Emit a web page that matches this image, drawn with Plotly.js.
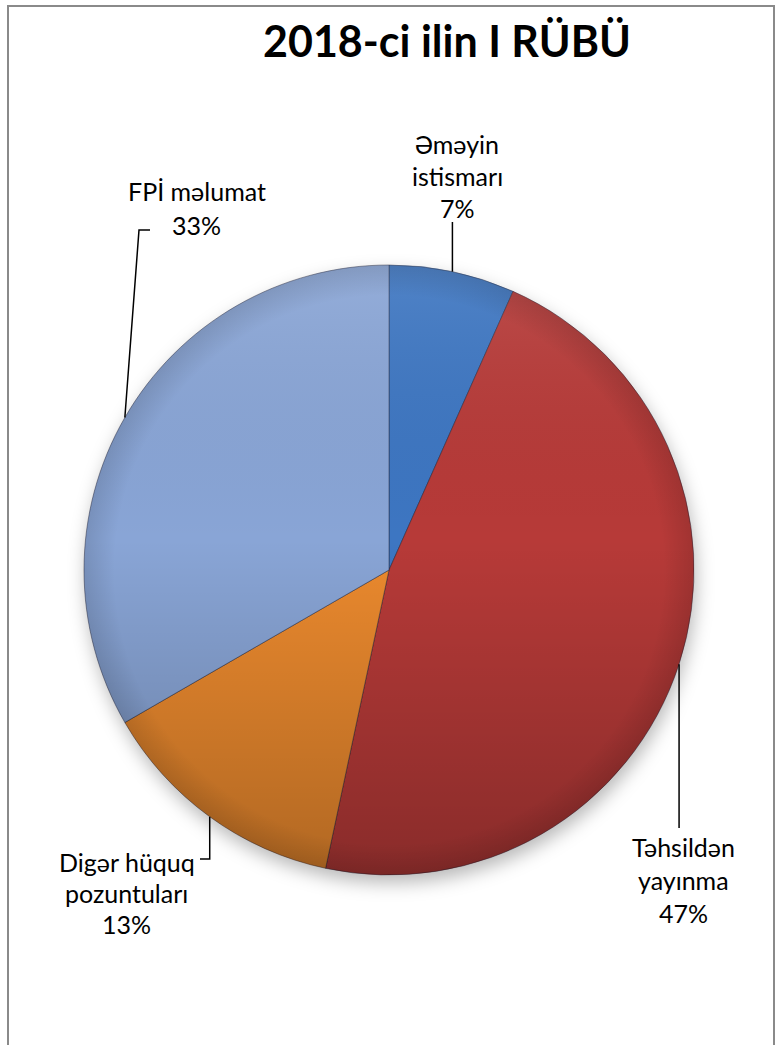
<!DOCTYPE html>
<html>
<head>
<meta charset="utf-8">
<script src="https://cdn.plot.ly/plotly-3.0.1.min.js"></script>
<style>
html,body{margin:0;padding:0;background:#fff;}
#chart{width:783px;height:1045px;}
</style>
</head>
<body>
<div id="chart"></div>
<script>
// ---- data ----
var titleText = "2018-ci ilin I RÜBÜ";
var categories = ["Əməyin istismarı", "Təhsildən yayınma", "Digər hüquq pozuntuları", "FPİ məlumat"];
var labelLines = [["Əməyin", "istismarı"], ["Təhsildən", "yayınma"], ["Digər hüquq", "pozuntuları"], ["FPİ məlumat"]];
var values = [2, 14, 4, 10];
var colors = ["#3d76c2", "#b73a38", "#ec8a2e", "#89a5d6"];

// ---- layout helpers ----
var W = 783, H = 1045;
function px(x){ return x / W; }
function py(y){ return 1 - y / H; }

var cx = 389, cy = 570, R = 305;
var total = values.reduce(function(a,b){return a+b;}, 0);

// label placement (pixel positions of the first text line centre) and leader elbows
var labelPos = [
  {x: 457, y: 144, dy: 32, line: function(p){ return [[p.x, p.y], [p.x, 222]]; }},
  {x: 683, y: 847, dy: 33, line: function(p){ return [[p.x, p.y], [p.x, 828]]; }},
  {x: 127, y: 862, dy: 31, line: function(p){ return [[p.x, p.y], [p.x, 859], [200, 859]]; }},
  {x: 197, y: 191, dy: 34, line: function(p){ return [[p.x, p.y], [139, 230], [150, 230]]; }}
];

var annotations = [];
var shapes = [];

// title
annotations.push({
  text: "<b>" + titleText + "</b>", x: px(447), y: py(41), xref: "paper", yref: "paper",
  xanchor: "center", yanchor: "middle", showarrow: false,
  font: {family: "Lato, 'Open Sans', sans-serif", size: 43, color: "#000"}
});

// border
shapes.push({type: "rect", xref: "paper", yref: "paper", x0: px(8), x1: px(774), y0: py(1060), y1: py(6),
  line: {color: "#8a8a8a", width: 2}, layer: "above"});

var cum = 0;
values.forEach(function(v, i){
  var mid = (cum + v / 2) / total * 2 * Math.PI;
  cum += v;
  var edge = {x: cx + R * Math.sin(mid), y: cy - R * Math.cos(mid)};
  var pts = labelPos[i].line(edge);
  var path = "M " + pts.map(function(p){ return px(p[0]) + "," + py(p[1]); }).join(" L ");
  shapes.push({type: "path", xref: "paper", yref: "paper", path: path,
    line: {color: "#000", width: 1.5}, layer: "above"});
  var lines = labelLines[i].concat([Math.round(v / total * 100) + "%"]);
  lines.forEach(function(t, k){
    annotations.push({
      text: t, x: px(labelPos[i].x), y: py(labelPos[i].y + k * labelPos[i].dy),
      xref: "paper", yref: "paper", xanchor: "center", yanchor: "middle", showarrow: false,
      font: {family: "Lato, 'Open Sans', sans-serif", size: 25, color: "#000"}
    });
  });
});

// shading overlay and soft shadow
var shadeSvg = '<svg xmlns="http://www.w3.org/2000/svg" viewBox="0 0 610 610" preserveAspectRatio="none">' +
  '<defs><linearGradient id="g" x1="0" y1="0" x2="0" y2="1">' +
  '<stop offset="0" stop-color="#ffffff" stop-opacity="0.10"/>' +
  '<stop offset="0.45" stop-color="#000000" stop-opacity="0.0"/>' +
  '<stop offset="1" stop-color="#000000" stop-opacity="0.25"/></linearGradient>' +
  '<radialGradient id="r" cx="0.5" cy="0.5" r="0.5">' +
  '<stop offset="0.9" stop-color="#000" stop-opacity="0"/>' +
  '<stop offset="1" stop-color="#000" stop-opacity="0.12"/></radialGradient></defs>' +
  '<circle cx="305" cy="305" r="305" fill="url(#g)"/>' +
  '<circle cx="305" cy="305" r="305" fill="url(#r)"/></svg>';
var shadowSvg = '<svg xmlns="http://www.w3.org/2000/svg" viewBox="0 0 700 700" preserveAspectRatio="none">' +
  '<defs><filter id="b" x="-20%" y="-20%" width="140%" height="140%"><feGaussianBlur stdDeviation="9"/></filter></defs>' +
  '<circle cx="352" cy="358" r="305" fill="#000" fill-opacity="0.28" filter="url(#b)"/></svg>';

var images = [
  {source: "data:image/svg+xml;charset=utf-8," + encodeURIComponent(shadowSvg), xref: "paper", yref: "paper",
   x: px(cx - 350), y: py(cy - 350), sizex: 700 / W, sizey: 700 / H, sizing: "stretch",
   xanchor: "left", yanchor: "top", layer: "below"},
  {source: "data:image/svg+xml;charset=utf-8," + encodeURIComponent(shadeSvg), xref: "paper", yref: "paper",
   x: px(cx - R), y: py(cy - R), sizex: 2 * R / W, sizey: 2 * R / H, sizing: "stretch",
   xanchor: "left", yanchor: "top", layer: "above", opacity: 1}
];

var trace = {
  type: "pie",
  labels: categories,
  values: values,
  sort: false,
  direction: "clockwise",
  rotation: 0,
  textinfo: "none",
  hoverinfo: "label+percent",
  marker: {colors: colors, line: {color: "rgba(30,30,50,0.45)", width: 1}},
  domain: {x: [px(cx - R), px(cx + R)], y: [py(cy + R), py(cy - R)]}
};

var layout = {
  width: W, height: H,
  margin: {l: 0, r: 0, t: 0, b: 0},
  paper_bgcolor: "#ffffff",
  showlegend: false,
  annotations: annotations,
  shapes: shapes,
  images: images
};

Plotly.newPlot("chart", [trace], layout, {displayModeBar: false, staticPlot: true});
</script>
</body>
</html>
